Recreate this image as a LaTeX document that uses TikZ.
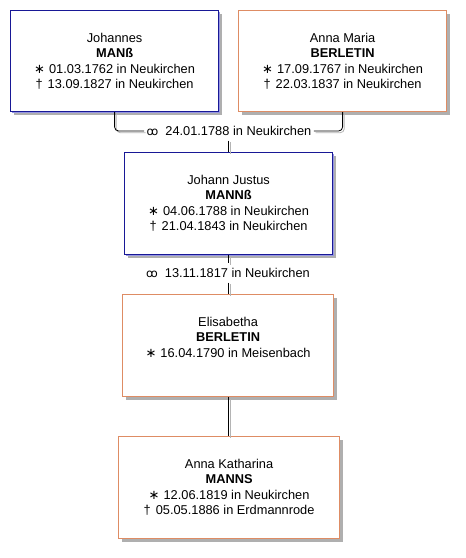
\documentclass[tikz,border=0pt]{standalone}
\usepackage{fontspec}
\setmainfont{Liberation Sans}
\newfontfamily\djv{DejaVu Sans}
\definecolor{mblue}{RGB}{24,24,150}
\definecolor{morange}{RGB}{222,140,100}
\definecolor{lav}{RGB}{150,150,225}
\definecolor{shgray}{RGB}{175,175,175}
\definecolor{linegray}{RGB}{180,180,180}
\newcommand\birthsym{{\djv\fontsize{13}{13}\selectfont ∗}\hspace{4pt}}
\newcommand\deathsym{†\hspace{5pt}}
\newcommand\marsym{{\djv\fontsize{11.5}{11.5}\selectfont ꝏ}\hspace{7pt}}
\tikzset{
  pbox/.style={draw=#1, line width=1.2pt, fill=white, minimum width=208pt,
    minimum height=101pt, inner sep=0pt, anchor=north west},
  grayshadow/.style={preaction={fill=shgray, transform canvas={shift={(3pt,-3pt)}}}},
  blueshadow/.style={preaction={fill=shgray, transform canvas={shift={(3pt,-3pt)}}},
    preaction={fill=lav, transform canvas={shift={(1.6pt,-1.6pt)}}}},
  ptext/.style={anchor=north, align=center, inner sep=0pt,
    font=\fontsize{12.8}{15.5}\selectfont},
  mlabel/.style={font=\fontsize{12.8}{15}\selectfont, text height=9pt, text depth=0pt,
    inner xsep=2.5pt, inner ysep=5pt},
  conn/.style={draw=black, line width=0.8pt,
    preaction={draw=linegray, line width=0.8pt, transform canvas={shift={(1.7pt,-1.7pt)}}}}
}
\begin{document}
\begin{tikzpicture}[x=1pt, y=-1pt]
\fill[white] (0,0) rectangle (466,558);
\useasboundingbox (0,0) rectangle (466,558);
% boxes
\node[pbox=mblue, blueshadow] (j) at (10,10) {};
\node[pbox=morange, grayshadow] (a) at (238,10) {};
\node[pbox=mblue, blueshadow, minimum height=102pt] (jj) at (124,152) {};
\node[pbox=morange, grayshadow, minimum width=211pt, minimum height=102pt] (e) at (122,294) {};
\node[pbox=morange, grayshadow, minimum width=221pt, minimum height=102pt] (ak) at (118,436) {};
% texts
\node[ptext] (jt) at ([yshift=-23pt]j.north) {Johannes\\ \textbf{MANß}\\ \birthsym 01.03.1762 in Neukirchen\\ \deathsym 13.09.1827 in Neukirchen};
\node[ptext] (at) at ([yshift=-23pt]a.north) {Anna Maria\\ \textbf{BERLETIN}\\ \birthsym 17.09.1767 in Neukirchen\\ \deathsym 22.03.1837 in Neukirchen};
\node[ptext] (jjt) at ([yshift=-23pt]jj.north) {Johann Justus\\ \textbf{MANNß}\\ \birthsym 04.06.1788 in Neukirchen\\ \deathsym 21.04.1843 in Neukirchen};
\node[ptext] (et) at ([yshift=-23pt]e.north) {Elisabetha\\ \textbf{BERLETIN}\\ \birthsym 16.04.1790 in Meisenbach};
\node[ptext] (akt) at ([yshift=-23pt]ak.north) {Anna Katharina\\ \textbf{MANNS}\\ \birthsym 12.06.1819 in Neukirchen\\ \deathsym 05.05.1886 in Erdmannrode};
% marriage labels
\node[mlabel] (m1) at (229,131) {\marsym 24.01.1788 in Neukirchen};
\node[mlabel] (m2) at (228,273) {\marsym 13.11.1817 in Neukirchen};
% connectors
\draw[conn, rounded corners=4pt] (j.south) |- (m1.west);
\draw[conn, rounded corners=4pt] (a.south) |- (m1.east);
\draw[conn] (m1.south -| jj.north) -- (jj.north);
\draw[conn] (jj.south) -- (m2.north -| jj.south);
\draw[conn] (m2.south -| jj.south) -- (e.north -| jj.south);
\draw[conn] (e.south -| jj.south) -- (ak.north -| jj.south);
\end{tikzpicture}
\end{document}
